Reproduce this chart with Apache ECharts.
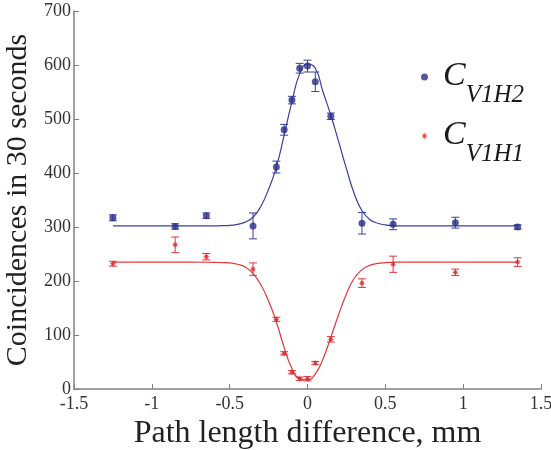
<!DOCTYPE html>
<html>
<head>
<meta charset="utf-8">
<script src="https://cdn.jsdelivr.net/npm/echarts@6/dist/echarts.min.js"></script>
<style>
  html, body { margin: 0; background: #fff; }
  #chart { width: 551px; height: 450px; }
</style>
</head>
<body>
<div id="chart"></div>
<script>
// measured path differences (mm), same for both runs
const pathDiff = [-1.25, -0.85, -0.65, -0.35, -0.2, -0.15, -0.1, -0.05, 0, 0.05, 0.15, 0.35, 0.55, 0.95, 1.35];

const countsH2 = [317, 301, 321, 302, 411, 480, 535, 594, 598, 569, 505, 307, 305, 308, 300];
const errH2 = [5.5, 5, 5, 24, 11, 10, 7, 9, 11, 18, 6, 20, 10, 10, 4];

const countsH1 = [232, 267, 245, 222, 129, 66, 31, 19, 19, 48, 92, 196, 231, 216, 235];
const errH1 = [4.5, 14.5, 6, 11.5, 3.7, 3, 3, 3, 4, 3, 5, 8, 15, 6, 8];

// fit curves
const fitH2 = [
  [-1.25, 302], [-1, 302], [-0.75, 302], [-0.6, 302], [-0.55, 302.5], [-0.5, 303],
  [-0.45, 305], [-0.4, 309], [-0.35, 318], [-0.3, 338], [-0.25, 370], [-0.2, 411],
  [-0.15, 470], [-0.1, 532], [-0.05, 584], [0, 602], [0.05, 594], [0.1, 550],
  [0.15, 507], [0.2, 458], [0.25, 408], [0.3, 362], [0.35, 330], [0.4, 314],
  [0.45, 307], [0.5, 304], [0.55, 302.5], [0.6, 302], [0.75, 302], [1, 302], [1.35, 302]
];
const fitH1 = [
  [-1.25, 235], [-1, 235], [-0.75, 235], [-0.6, 234.5], [-0.55, 234], [-0.5, 233.5],
  [-0.45, 231], [-0.4, 226], [-0.35, 214], [-0.3, 193], [-0.25, 163], [-0.2, 124],
  [-0.15, 77], [-0.1, 38], [-0.05, 19], [0, 17], [0.05, 28], [0.1, 56],
  [0.15, 96], [0.2, 138], [0.25, 176], [0.3, 205], [0.35, 221], [0.4, 229],
  [0.45, 232.5], [0.5, 234], [0.55, 234.5], [0.6, 235], [0.75, 235], [1, 235], [1.35, 235]
];

const xTicks = { min: -1.5, max: 1.5, step: 0.5 };
const yTicks = { min: 0, max: 700, step: 100 };

const BLUE = "#2b2e8a";
const BLUE_LINE = "#3a3f9e";
const RED = "#d6252b";
const RED_LINE = "#e2383d";
const FONT = "Liberation Serif";

const starPath = (() => {
  let d = "";
  for (let i = 0; i < 16; i++) {
    const a = (i * Math.PI) / 8 - Math.PI / 2;
    const r = i % 2 ? 0.45 : 1;
    d += (i ? "L" : "M") + (r * Math.cos(a)).toFixed(3) + " " + (r * Math.sin(a)).toFixed(3) + " ";
  }
  return "path://" + d + "Z";
})();

function errorBars(name, ys, es, color) {
  return {
    type: "custom",
    name: name,
    z: 3,
    silent: true,
    data: pathDiff.map((x, i) => [x, ys[i] - es[i], ys[i] + es[i]]),
    renderItem: (params, api) => {
      const lo = api.coord([api.value(0), api.value(1)]);
      const hi = api.coord([api.value(0), api.value(2)]);
      const w = 4;
      const style = { stroke: color, lineWidth: 1 };
      return {
        type: "group",
        children: [
          { type: "line", shape: { x1: lo[0], y1: lo[1], x2: hi[0], y2: hi[1] }, style },
          { type: "line", shape: { x1: hi[0] - w, y1: hi[1], x2: hi[0] + w, y2: hi[1] }, style },
          { type: "line", shape: { x1: lo[0] - w, y1: lo[1], x2: lo[0] + w, y2: lo[1] }, style },
        ],
      };
    },
  };
}

// C with a subscript, marker centred on the big C
function legendAt(top, name, icon) {
  return {
    orient: "vertical",
    left: 421,
    top: top,
    padding: 0,
    itemWidth: 7,
    itemHeight: 7,
    selectedMode: false,
    data: [{ name: name, icon: icon }],
    formatter: (n) => "{c|C}{s|" + n.slice(1) + "}",
    textStyle: {
      rich: {
        c: { fontFamily: FONT, fontStyle: "italic", fontSize: 34, lineHeight: 34, color: "#1a1a1a", padding: [3, 0, 5, 10] },
        s: { fontFamily: FONT, fontStyle: "italic", fontSize: 25, lineHeight: 25, color: "#1a1a1a", padding: [37, 0, 0, 0] },
      },
    },
  };
}

const axisCommon = {
  type: "value",
  nameLocation: "middle",
  axisLine: { show: true, onZero: false, lineStyle: { color: "#808080", width: 1.5 } },
  axisTick: { show: true, inside: true, length: 5, lineStyle: { color: "#808080" } },
  axisLabel: { fontFamily: FONT, fontSize: 18, color: "#333" },
  splitLine: { show: false },
};

const chart = echarts.init(document.getElementById("chart"), null, { renderer: "canvas" });

chart.setOption({
  animation: false,
  backgroundColor: "#fff",
  grid: { left: 74, right: 10, top: 11, bottom: 61, containLabel: false, outerBoundsMode: "none" },
  legend: [legendAt(46, "CV1H2", "circle"), legendAt(105, "CV1H1", starPath)],
  xAxis: Object.assign({}, axisCommon, {
    min: xTicks.min, max: xTicks.max, interval: xTicks.step,
    name: "Path length difference, mm",
    nameGap: 27,
    nameTextStyle: { fontFamily: FONT, fontSize: 32, color: "#222" },
    axisLabel: Object.assign({}, axisCommon.axisLabel, { margin: 6 }),
  }),
  yAxis: Object.assign({}, axisCommon, {
    min: yTicks.min, max: yTicks.max, interval: yTicks.step,
    name: "Coincidences in 30 seconds",
    nameGap: 33,
    nameTextStyle: { fontFamily: FONT, fontSize: 30, color: "#222" },
    axisLabel: Object.assign({}, axisCommon.axisLabel, { margin: 3 }),
  }),
  series: [
    {
      type: "line", name: "fitH2", data: fitH2, smooth: true,
      showSymbol: false, silent: true, z: 2,
      lineStyle: { color: BLUE_LINE, width: 1.2 },
    },
    {
      type: "line", name: "fitH1", data: fitH1, smooth: true,
      showSymbol: false, silent: true, z: 2,
      lineStyle: { color: RED_LINE, width: 1.2 },
    },
    errorBars("errH2", countsH2, errH2, BLUE_LINE),
    errorBars("errH1", countsH1, errH1, RED_LINE),
    {
      type: "scatter", name: "CV1H2", z: 4,
      data: pathDiff.map((x, i) => [x, countsH2[i]]),
      symbol: "circle", symbolSize: 7,
      itemStyle: { color: BLUE },
    },
    {
      type: "scatter", name: "CV1H1", z: 4,
      data: pathDiff.map((x, i) => [x, countsH1[i]]),
      symbol: starPath, symbolSize: 7,
      itemStyle: { color: RED },
    },
  ],
});
</script>
</body>
</html>
